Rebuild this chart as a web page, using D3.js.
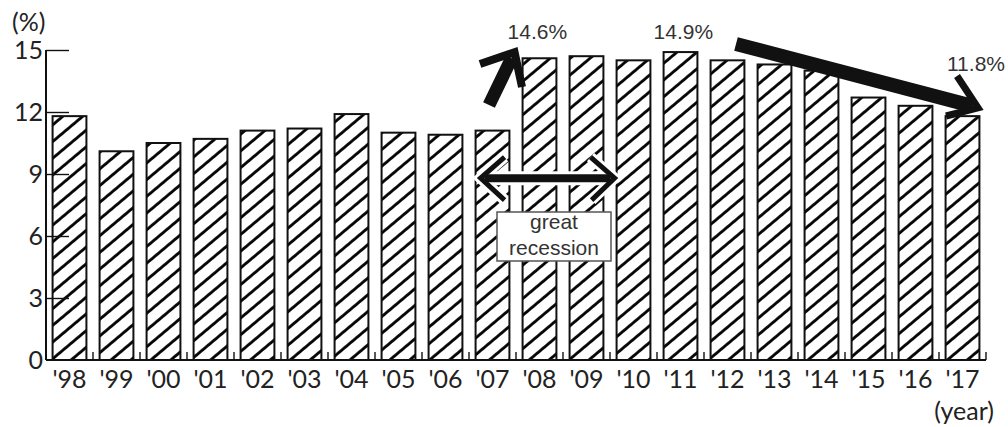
<!DOCTYPE html>
<html>
<head>
<meta charset="utf-8">
<script src="https://cdn.jsdelivr.net/npm/d3@7"></script>
<style>
  html, body { margin: 0; padding: 0; background: #fff; }
  svg { display: block; }
  .tickLabel { font-family: Lato, "Open Sans", sans-serif; font-size: 25px; fill: #222; }
  .note { font-family: "Liberation Sans", Arial, sans-serif; font-size: 21px; fill: #333; }
</style>
</head>
<body>
<div id="chart"></div>
<script>
// data
var years = ["'98", "'99", "'00", "'01", "'02", "'03", "'04", "'05", "'06", "'07",
             "'08", "'09", "'10", "'11", "'12", "'13", "'14", "'15", "'16", "'17"];
var rates = [11.8, 10.1, 10.5, 10.7, 11.1, 11.2, 11.9, 11.0, 10.9, 11.1,
             14.6, 14.7, 14.5, 14.9, 14.5, 14.3, 14.0, 12.7, 12.3, 11.8];
var yTicks = [0, 3, 6, 9, 12, 15];

var width = 1008, height = 427;
var plotLeft = 46, plotRight = 986, plotBottom = 360, plotTop = 50;

var svg = d3.select("#chart").append("svg")
    .attr("width", width)
    .attr("height", height);

var x = d3.scaleBand().domain(years).range([plotLeft, plotRight])
    .paddingInner(0.28).paddingOuter(0.14);
var y = d3.scaleLinear().domain([0, 15]).range([plotBottom, plotTop]);

// diagonal hatch, about 40 degrees
var pat = svg.append("defs").append("pattern")
    .attr("id", "hatch")
    .attr("patternUnits", "userSpaceOnUse")
    .attr("width", 12.8).attr("height", 12.8)
    .attr("patternTransform", "rotate(50)");
pat.append("line")
    .attr("x1", 1.5).attr("y1", 0).attr("x2", 1.5).attr("y2", 12.8)
    .attr("stroke", "#000").attr("stroke-width", 2.8);

// bars
svg.append("g").selectAll("rect")
    .data(rates)
    .enter().append("rect")
    .attr("x", function (d, i) { return x(years[i]); })
    .attr("y", function (d) { return y(d); })
    .attr("width", x.bandwidth())
    .attr("height", function (d) { return plotBottom - y(d); })
    .attr("fill", "url(#hatch)")
    .attr("stroke", "#111")
    .attr("stroke-width", 2);

// y axis with inner ticks
var yAxis = svg.append("g")
    .attr("transform", "translate(" + plotLeft + ",0)")
    .call(d3.axisRight(y).tickValues(yTicks).tickSize(23).tickFormat(""));
yAxis.select(".domain").attr("d", "M0," + plotTop + "V" + plotBottom).attr("stroke", "#111").attr("stroke-width", 2);
yAxis.selectAll(".tick line").attr("stroke", "#111").attr("stroke-width", 1.4);
yAxis.selectAll(".tick").filter(function (d) { return d === 0; }).remove();

svg.append("g").selectAll("text")
    .data(yTicks)
    .enter().append("text")
    .attr("class", "tickLabel")
    .attr("x", plotLeft - 3)
    .attr("y", function (d) { return y(d) + 9; })
    .attr("text-anchor", "end")
    .text(function (d) { return d; });

// x axis with small ticks between bars
var step = x.step();
var xAxis = svg.append("g")
    .attr("transform", "translate(0," + plotBottom + ")")
    .call(d3.axisBottom(x).tickSize(0).tickFormat(""));
xAxis.select(".domain").attr("d", "M" + plotLeft + ",0H" + plotRight).attr("stroke", "#111").attr("stroke-width", 2);
xAxis.selectAll(".tick").remove();
xAxis.selectAll("line.sep")
    .data(years)
    .enter().append("line")
    .attr("class", "sep")
    .attr("x1", function (d) { return x(d) - x.paddingInner() * step / 2 + step; })
    .attr("x2", function (d) { return x(d) - x.paddingInner() * step / 2 + step; })
    .attr("y1", 0).attr("y2", -8)
    .attr("stroke", "#111").attr("stroke-width", 1.4);

svg.append("g").selectAll("text")
    .data(years)
    .enter().append("text")
    .attr("class", "tickLabel")
    .attr("x", function (d) { return x(d) + x.bandwidth() / 2; })
    .attr("y", plotBottom + 28)
    .attr("text-anchor", "middle")
    .text(function (d) { return d; });

svg.append("text").attr("class", "tickLabel").attr("font-size", "24px")
    .attr("x", 12).attr("y", 31).text("(%)");
svg.append("text").attr("class", "tickLabel").attr("x", 994).attr("y", 420)
    .attr("text-anchor", "end").text("(year)");

// annotations
function bx(yr) { return x(yr); }
svg.append("text").attr("class", "note").attr("x", bx("'08") - 15).attr("y", 39).text("14.6%");
svg.append("text").attr("class", "note").attr("x", bx("'11") - 10).attr("y", 39).text("14.9%");
svg.append("text").attr("class", "note").attr("x", 1005).attr("y", 71)
    .attr("text-anchor", "end").text("11.8%");

function stroke(g, pts, w, color) {
  g.append("path")
    .attr("d", d3.line()(pts))
    .attr("fill", "none")
    .attr("stroke", color)
    .attr("stroke-width", w)
    .attr("stroke-linejoin", "miter")
    .attr("stroke-miterlimit", 10);
}

// rising arrow
var a1 = svg.append("g");
var tip1 = [bx("'08") - 8, y(14.6) - 6];
stroke(a1, [[489, 105], [tip1[0] - 3, tip1[1] + 6]], 13, "#111");
stroke(a1, [[480, 64], tip1, [522, 87]], 8, "#111");

// great recession double arrow
var a2 = svg.append("g");
var ay = y(8.8);
var l = bx("'07") + 5, r = bx("'10") - 2;
stroke(a2, [[l + 4, ay], [r - 4, ay]], 14, "#fff");
stroke(a2, [[l + 24, ay - 21], [l, ay], [l + 24, ay + 22]], 11, "#fff");
stroke(a2, [[r - 24, ay - 21], [r, ay], [r - 23, ay + 22]], 11, "#fff");
stroke(a2, [[l + 4, ay], [r - 4, ay]], 8, "#111");
stroke(a2, [[l + 24, ay - 21], [l, ay], [l + 24, ay + 22]], 5, "#111");
stroke(a2, [[r - 24, ay - 21], [r, ay], [r - 23, ay + 22]], 5, "#111");

svg.append("rect")
    .attr("x", 497).attr("y", 212).attr("width", 114).attr("height", 49)
    .attr("fill", "#fff").attr("stroke", "#555").attr("stroke-width", 1.5);
svg.append("text").attr("class", "note").attr("font-size", "22px")
    .attr("x", 554).attr("y", 229).attr("text-anchor", "middle").text("great");
svg.append("text").attr("class", "note").attr("font-size", "22px")
    .attr("x", 554).attr("y", 255).attr("text-anchor", "middle").text("recession");

// falling arrow
var a3 = svg.append("g");
var tip3 = [978, y(12.2)];
stroke(a3, [[736, 44], [tip3[0] - 6, tip3[1] - 2]], 14, "#111");
stroke(a3, [[957, 76], tip3, [946, 116]], 7, "#111");
</script>
</body>
</html>
